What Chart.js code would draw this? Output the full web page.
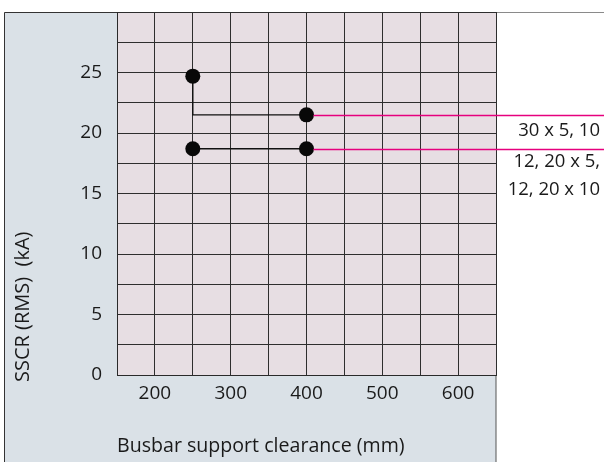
<!DOCTYPE html>
<html><head><meta charset="utf-8">
<script src="https://cdn.jsdelivr.net/npm/chart.js@4"></script>
<style>html,body{margin:0;padding:0;background:#fff;}#wrap{width:604px;height:462px;position:relative;}</style>
</head><body><div id="wrap"><canvas id="c" width="604" height="462"></canvas></div>
<script>
// ---- data ----
const clearance = [250, 400];          // Busbar support clearance (mm)
const seriesA = [24.7, 21.5];          // "30 x 5, 10"
const seriesB = [18.7, 18.7];          // "12, 20 x 5, / 12, 20 x 10"
const labelA = ['30 x 5, 10'];
const labelB = ['12, 20 x 5,', '12, 20 x 10'];
const xTickLabels = [200, 300, 400, 500, 600];
const yTickLabels = [0, 5, 10, 15, 20, 25];
const xTitle = 'Busbar support clearance (mm)';
const yTitle = 'SSCR (RMS)  (kA)';

const FONT = "'Open Sans', 'DejaVu Sans', sans-serif";
const PINK = '#e6007e';

const dataA = [
  {x: clearance[0], y: seriesA[0]},
  {x: clearance[0], y: seriesA[1]},
  {x: clearance[1], y: seriesA[1]}
];
const dataB = [
  {x: clearance[0], y: seriesB[0]},
  {x: clearance[1], y: seriesB[1]}
];

const decor = {
  id: 'decor',
  beforeDraw(chart) {
    const {ctx, chartArea: a, width, height} = chart;
    ctx.save();
    ctx.fillStyle = '#ffffff';
    ctx.fillRect(0, 0, width, height);
    ctx.fillStyle = '#dae1e7';
    ctx.fillRect(4, a.top, a.right - 4, height - a.top);
    ctx.fillStyle = '#e7dee3';
    ctx.fillRect(a.left, a.top, a.right - a.left, a.bottom - a.top);
    ctx.lineWidth = 1;
    ctx.strokeStyle = '#8a8a8a';
    ctx.beginPath(); ctx.moveTo(a.right, a.top + 0.5); ctx.lineTo(width, a.top + 0.5); ctx.stroke();
    ctx.strokeStyle = '#333';
    ctx.beginPath();
    ctx.moveTo(4.5, height); ctx.lineTo(4.5, a.top + 0.5); ctx.lineTo(a.right, a.top + 0.5);
    ctx.stroke();
    ctx.strokeStyle = '#555';
    ctx.beginPath(); ctx.moveTo(a.right, a.bottom); ctx.lineTo(a.right, height); ctx.stroke();
    ctx.restore();
  },
  afterDatasetsDraw(chart) {
    const {ctx, scales: {x, y}, width} = chart;
    ctx.save();
    ctx.strokeStyle = PINK;
    ctx.lineWidth = 1.5;
    const x0 = x.getPixelForValue(clearance[1]) + 7;
    [seriesA[1], seriesB[1]].forEach(v => {
      const py = Math.round(y.getPixelForValue(v)) + 0.5;
      ctx.beginPath(); ctx.moveTo(x0, py); ctx.lineTo(width, py); ctx.stroke();
    });
    ctx.restore();
  },
  afterDraw(chart) {
    const {ctx, scales: {x, y}, chartArea: a, width} = chart;
    ctx.save();
    ctx.fillStyle = '#1a1a1a';
    ctx.font = '18.5px ' + FONT;
    ctx.textAlign = 'right';
    ctx.textBaseline = 'alphabetic';
    const yA = y.getPixelForValue(seriesA[1]);
    const yB = y.getPixelForValue(seriesB[1]);
    labelA.forEach((t, i) => ctx.fillText(t, width - 4, yA + 21.5 + i * 27));
    labelB.forEach((t, i) => ctx.fillText(t, width - 4, yB + 18.5 + i * 27.4));
    // y axis title
    ctx.font = '20px ' + FONT;
    ctx.translate(29, a.bottom + 7);
    ctx.rotate(-Math.PI / 2);
    ctx.textAlign = 'left';
    ctx.fillText(yTitle, 0, 0);
    ctx.restore();
  }
};

new Chart(document.getElementById('c'), {
  type: 'scatter',
  data: {
    datasets: [
      {data: dataA, showLine: true, borderColor: '#111', borderWidth: 1.4,
       pointRadius: [7.5, 0, 7.5], pointHoverRadius: [7.5, 0, 7.5],
       pointBackgroundColor: '#080808', pointBorderWidth: 0, tension: 0, clip: false},
      {data: dataB, showLine: true, borderColor: '#111', borderWidth: 1.4,
       pointRadius: 7.5, pointHoverRadius: 7.5,
       pointBackgroundColor: '#080808', pointBorderWidth: 0, tension: 0, clip: false}
    ]
  },
  options: {
    responsive: false,
    animation: false,
    devicePixelRatio: 1,
    layout: {padding: {left: 0, right: 108, top: 12, bottom: 0}},
    plugins: {legend: {display: false}, tooltip: {enabled: false}},
    scales: {
      x: {
        type: 'linear', position: 'bottom', min: 150, max: 650,
        afterFit: s => { s.height = 87; s.paddingLeft = 0; s.paddingRight = 0; },
        ticks: {stepSize: 50, autoSkip: false, maxRotation: 0, padding: 7,
                color: '#1a1a1a', font: {family: FONT, size: 19},
                callback: v => xTickLabels.includes(v) ? String(v) : ''},
        grid: {color: '#2e2e2e', lineWidth: 1, drawTicks: false},
        border: {display: true, color: '#2a2a2a', width: 1},
        title: {display: true, text: xTitle, align: 'start', color: '#1a1a1a',
                font: {family: FONT, size: 19.6}, padding: {top: 0, bottom: 4}}
      },
      y: {
        type: 'linear', position: 'left', min: 0, max: 30,
        afterFit: s => { s.width = 117; s.paddingTop = 0; s.paddingBottom = 0; },
        ticks: {stepSize: 2.5, autoSkip: false, padding: 15,
                color: '#1a1a1a', font: {family: FONT, size: 19},
                callback: v => yTickLabels.includes(v) ? String(v) : ''},
        grid: {color: '#2e2e2e', lineWidth: 1, drawTicks: false},
        border: {display: true, color: '#2a2a2a', width: 1}
      }
    }
  },
  plugins: [decor]
});
</script></body></html>
